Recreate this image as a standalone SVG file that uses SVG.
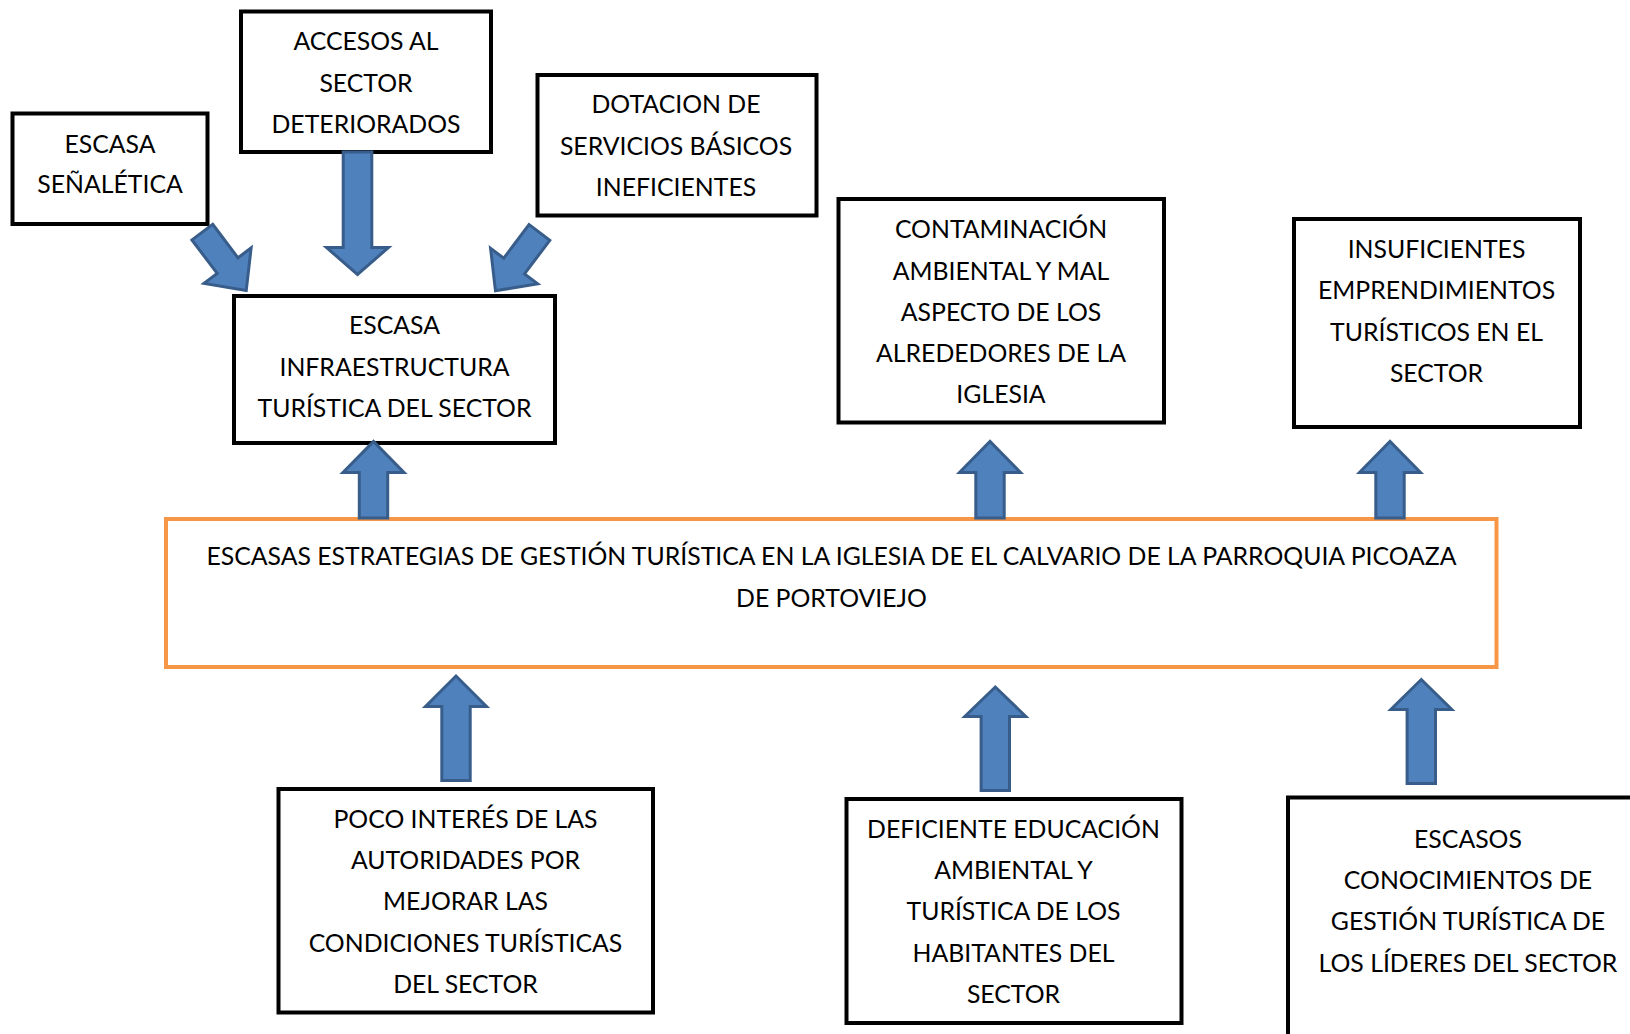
<svg xmlns="http://www.w3.org/2000/svg" width="1630" height="1034" viewBox="0 0 1630 1034">
<style>
.box{fill:#fff;stroke:#000;stroke-width:4}
.main{fill:#fff;stroke:#F79646;stroke-width:4}
.t{font-family:Lato,"Open Sans","Liberation Sans",sans-serif;font-size:24.8px;fill:#000;text-anchor:middle}
.arr{fill:#4F81BD;stroke:#385D8A;stroke-width:3;stroke-linejoin:miter}
</style>
<defs>
<polygon id="diag" points="1,-13 43,-13 43,-29.5 74,0 43,29.5 43,13 1,13"/>
</defs>
<rect width="1630" height="1034" fill="#fff"/>
<g id="nodes">
<g id="n-senaletica">
<rect class="box" x="12.5" y="113.5" width="195" height="110.5"/>
<text class="t"><tspan x="110" y="153.3">ESCASA</tspan><tspan x="110" y="193.3">SEÑALÉTICA</tspan></text>
</g>
<g id="n-accesos">
<rect class="box" x="241" y="11.5" width="250" height="140.5"/>
<text class="t"><tspan x="366" y="50">ACCESOS AL</tspan><tspan x="366" y="91.7">SECTOR</tspan><tspan x="366" y="132.7">DETERIORADOS</tspan></text>
</g>
<g id="n-dotacion">
<rect class="box" x="537.5" y="75" width="279" height="140.5"/>
<text class="t"><tspan x="676" y="113.3">DOTACION DE</tspan><tspan x="676" y="155">SERVICIOS BÁSICOS</tspan><tspan x="676" y="196">INEFICIENTES</tspan></text>
</g>
<g id="n-infra">
<rect class="box" x="234" y="296" width="321" height="147"/>
<text class="t"><tspan x="394.5" y="334.3">ESCASA</tspan><tspan x="394.5" y="375.7">INFRAESTRUCTURA</tspan><tspan x="394.5" y="416.7">TURÍSTICA DEL SECTOR</tspan></text>
</g>
<g id="n-contaminacion">
<rect class="box" x="838.5" y="199" width="325.5" height="223.5"/>
<text class="t"><tspan x="1001" y="238.3">CONTAMINACIÓN</tspan><tspan x="1001" y="280">AMBIENTAL Y MAL</tspan><tspan x="1001" y="321">ASPECTO DE LOS</tspan><tspan x="1001" y="361.7">ALREDEDORES DE LA</tspan><tspan x="1001" y="403.3">IGLESIA</tspan></text>
</g>
<g id="n-insuficientes">
<rect class="box" x="1294" y="219" width="286" height="208"/>
<text class="t"><tspan x="1436.5" y="258.3">INSUFICIENTES</tspan><tspan x="1436.5" y="299.3">EMPRENDIMIENTOS</tspan><tspan x="1436.5" y="340.7">TURÍSTICOS EN EL</tspan><tspan x="1436.5" y="381.7">SECTOR</tspan></text>
</g>
<g id="n-main">
<rect class="main" x="166" y="519" width="1330.5" height="148"/>
<text class="t"><tspan x="831.5" y="565">ESCASAS ESTRATEGIAS DE GESTIÓN TURÍSTICA EN LA IGLESIA DE EL CALVARIO DE LA PARROQUIA PICOAZA</tspan><tspan x="831.5" y="606.7">DE PORTOVIEJO</tspan></text>
</g>
<g id="n-poco">
<rect class="box" x="278.5" y="789" width="374.5" height="223.5"/>
<text class="t"><tspan x="465.5" y="828.3">POCO INTERÉS DE LAS</tspan><tspan x="465.5" y="869.3">AUTORIDADES POR</tspan><tspan x="465.5" y="910">MEJORAR LAS</tspan><tspan x="465.5" y="951.7">CONDICIONES TURÍSTICAS</tspan><tspan x="465.5" y="992.7">DEL SECTOR</tspan></text>
</g>
<g id="n-deficiente">
<rect class="box" x="846.5" y="799" width="335" height="224"/>
<text class="t"><tspan x="1013.5" y="838.3">DEFICIENTE EDUCACIÓN</tspan><tspan x="1013.5" y="879.3">AMBIENTAL Y</tspan><tspan x="1013.5" y="920">TURÍSTICA DE LOS</tspan><tspan x="1013.5" y="961.7">HABITANTES DEL</tspan><tspan x="1013.5" y="1002.7">SECTOR</tspan></text>
</g>
<g id="n-escasos">
<rect class="box" x="1288" y="797.5" width="400" height="300"/>
<text class="t"><tspan x="1468" y="848.3">ESCASOS</tspan><tspan x="1468" y="889.3">CONOCIMIENTOS DE</tspan><tspan x="1468" y="930">GESTIÓN TURÍSTICA DE</tspan><tspan x="1468" y="971.7">LOS LÍDERES DEL SECTOR</tspan></text>
</g>
</g>
<g id="connectors">
<use href="#diag" class="arr" transform="translate(201.7,231.3) rotate(53)"/>
<use href="#diag" class="arr" transform="translate(540,231.7) rotate(127)"/>
<polygon class="arr" points="343.2,152 371.8,152 371.8,247.5 388.5,247.5 357.5,274.5 326.5,247.5 343.2,247.5"/>
<polygon class="arr" points="359.3,518 387.7,518 387.7,472.5 404,472.5 373.5,441.5 343,472.5 359.3,472.5"/>
<polygon class="arr" points="975.8,518 1004.2,518 1004.2,472.5 1020.5,472.5 990,441.5 959.5,472.5 975.8,472.5"/>
<polygon class="arr" points="1375.8,518 1404.2,518 1404.2,472.5 1420.5,472.5 1390,441.5 1359.5,472.5 1375.8,472.5"/>
<polygon class="arr" points="441.8,780.5 470.2,780.5 470.2,706.5 486.5,706.5 456,676 425.5,706.5 441.8,706.5"/>
<polygon class="arr" points="981.1,790.5 1009.5,790.5 1009.5,716.5 1025.8,716.5 995.3,687 964.8,716.5 981.1,716.5"/>
<polygon class="arr" points="1407.1,783.5 1435.5,783.5 1435.5,709.5 1451.8,709.5 1421.3,679.5 1390.8,709.5 1407.1,709.5"/>
</g>
</svg>
